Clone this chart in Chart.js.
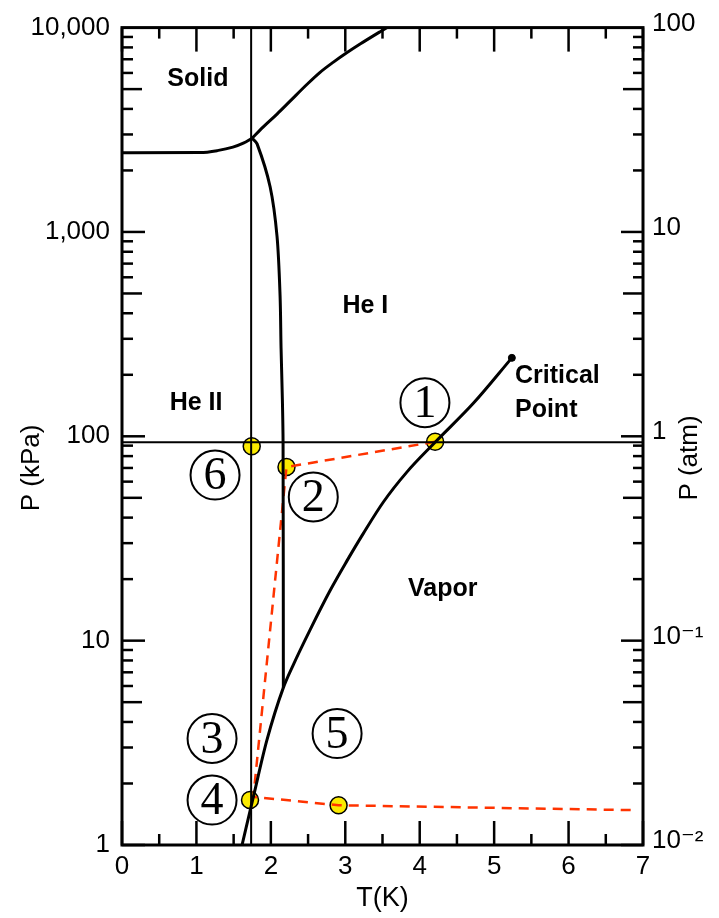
<!DOCTYPE html>
<html>
<head>
<meta charset="utf-8">
<script src="https://cdn.jsdelivr.net/npm/chart.js@4.4.1/dist/chart.umd.min.js"></script>
<style>
html,body{margin:0;padding:0;background:#fff;}
#wrap{width:719px;height:918px;}
</style>
</head>
<body>
<div id="wrap"><canvas id="c" width="719" height="918"></canvas></div>
<script>
// ---------- data ----------
const xTickValues = [0, 1, 2, 3, 4, 5, 6, 7];
const leftTickValues = [1, 10, 100, 1000, 10000];
const leftTickLabels = ['1', '10', '100', '1,000', '10,000'];
const rightTickValues = [0.01, 0.1, 1, 10, 100];
const rightTickLabels = ['10\u207B\u00B2', '10\u207B\u00B9', '1', '10', '100'];

// melting curve, low-temperature part (He II / solid), T in K, P in kPa
const meltLowT = [0, 1.05, 1.28, 1.49, 1.63, 1.747];
const meltLowP = [2440, 2445, 2500, 2600, 2718, 2872];

// melting curve, upper part (He I / solid)
const meltHighT = [1.747, 1.895, 2.083, 2.258, 2.487, 2.661, 2.836, 3.024, 3.199, 3.468, 3.67];
const meltHighP = [2872, 3260, 3775, 4365, 5280, 6040, 6760, 7550, 8310, 9550, 10570];

// lambda line (He I / He II boundary)
const lambdaT = [1.747, 1.815, 1.99, 2.083, 2.124, 2.137, 2.155, 2.164, 2.168];
const lambdaP = [2872, 2698, 1665, 951, 485, 271, 150, 93.5, 5.89];

// vapour-pressure curve up to the critical point
const vaporT = [1.613, 1.765, 1.945, 2.168, 2.30, 2.527, 2.796, 3.020, 3.243, 3.512, 3.827, 4.207, 4.72, 5.238];
const vaporP = [1.0, 1.72, 3.24, 5.89, 7.6, 11.3, 17.6, 24.5, 33.5, 47.7, 66.8, 93.5, 145, 242];

// isotherm and isobar guide lines
const isothermT = [1.735, 1.735];
const isothermP = [1, 10000];
const isobarT = [0, 7];
const isobarP = [93.5, 93.5];

// cycle path (red dashed)
const pathT = [4.207, 2.21, 1.765, 2.91, 6.92];
const pathP = [94, 70.7, 1.72, 1.565, 1.48];

// state points (yellow)
const stateT = [4.207, 2.21, 1.72, 2.91, 1.743];
const stateP = [94, 70.7, 1.66, 1.565, 89.4];

// critical point
const critT = [5.238];
const critP = [242];

// circled state numbers
const stateNumbers = ['1', '2', '3', '4', '5', '6'];
const stateNumberT = [4.07, 2.57, 1.21, 1.21, 2.89, 1.25];
const stateNumberP = [146, 50.5, 3.32, 1.66, 3.51, 64.6];

// region names
const regionNames = ['Solid', 'He I', 'He II', 'Vapor'];
const regionT = [1.02, 3.27, 0.995, 4.31];
const regionP = [5585, 434, 145, 17.8];
const critLabelLines = ['Critical', 'Point'];
const critLabelT = [5.28, 5.28];
const critLabelP = [196, 135];

const xTitle = 'T(K)';
const yLeftTitle = 'P (kPa)';
const yRightTitle = 'P (atm)';

// ---------- helpers ----------
const pts = (t, p) => t.map((v, i) => ({x: v, y: p[i]}));
const SANS = "'Liberation Sans', Arial, 'DejaVu Sans', sans-serif";
const SERIF = "'Liberation Serif', 'Times New Roman', 'DejaVu Serif', serif";

const decorations = {
  id: 'decorations',
  afterDatasetsDraw(chart) {
    const {ctx, chartArea: a, scales} = chart;
    const x = scales.x, y = scales.y, y2 = scales.y2;
    const line = (x1, y1, x2, y2_) => { ctx.beginPath(); ctx.moveTo(x1, y1); ctx.lineTo(x2, y2_); ctx.stroke(); };
    ctx.save();
    ctx.strokeStyle = '#000';
    // frame
    ctx.lineWidth = 3;
    ctx.strokeRect(a.left, a.top, a.right - a.left, a.bottom - a.top);
    // x ticks (inward, bottom and top)
    ctx.lineWidth = 2.5;
    for (let k = 0; k <= 14; k++) {
      const v = k / 2;
      const px = x.getPixelForValue(v);
      const L = k % 2 === 0 ? 24 : 11;
      line(px, a.bottom, px, a.bottom - L);
      line(px, a.top, px, a.top + L);
    }
    // left log ticks
    for (let d = 0; d < 4; d++) {
      for (let m = 1; m <= 9; m++) {
        const py = y.getPixelForValue(m * Math.pow(10, d));
        const L = m === 1 ? 23 : (m === 5 ? 20 : 11);
        line(a.left, py, a.left + L, py);
      }
    }
    // right log ticks
    for (let d = -2; d < 2; d++) {
      for (let m = 1; m <= 9; m++) {
        const py = y2.getPixelForValue(m * Math.pow(10, d));
        const L = m === 1 ? 22 : (m === 5 ? 20 : 10);
        line(a.right, py, a.right - L, py);
      }
    }
    // circled state numbers
    ctx.lineWidth = 2;
    ctx.textAlign = 'center';
    ctx.textBaseline = 'middle';
    ctx.font = '46px ' + SERIF;
    stateNumbers.forEach((s, i) => {
      const cx = x.getPixelForValue(stateNumberT[i]);
      const cy = y.getPixelForValue(stateNumberP[i]);
      ctx.fillStyle = '#fff';
      ctx.beginPath(); ctx.arc(cx, cy, 24.5, 0, Math.PI * 2); ctx.fill();
      ctx.stroke();
      ctx.fillStyle = '#000';
      ctx.fillText(s, cx, cy + 2);
    });
    // region names
    ctx.fillStyle = '#000';
    ctx.font = 'bold 25px ' + SANS;
    regionNames.forEach((s, i) => {
      ctx.fillText(s, x.getPixelForValue(regionT[i]), y.getPixelForValue(regionP[i]));
    });
    ctx.textAlign = 'left';
    critLabelLines.forEach((s, i) => {
      ctx.fillText(s, x.getPixelForValue(critLabelT[i]), y.getPixelForValue(critLabelP[i]));
    });
    // axis titles for the vertical axes
    ctx.font = '26px ' + SANS;
    ctx.textAlign = 'center';
    ctx.save();
    ctx.translate(32, 468);
    ctx.rotate(-Math.PI / 2);
    ctx.fillText(yLeftTitle, 0, 0);
    ctx.restore();
    ctx.save();
    ctx.translate(690, 458);
    ctx.rotate(-Math.PI / 2);
    ctx.fillText(yRightTitle, 0, 0);
    ctx.restore();
    ctx.restore();
  }
};

const noGrid = {display: false, drawTicks: false};

new Chart(document.getElementById('c'), {
  type: 'scatter',
  data: {
    datasets: [
      {data: pts(isothermT, isothermP), showLine: true, borderColor: '#000', borderWidth: 2, pointRadius: 0},
      {data: pts(isobarT, isobarP), showLine: true, borderColor: '#000', borderWidth: 2, pointRadius: 0},
      {data: pts(meltLowT, meltLowP), showLine: true, borderColor: '#000', borderWidth: 3, pointRadius: 0, cubicInterpolationMode: 'monotone'},
      {data: pts(meltHighT, meltHighP), showLine: true, borderColor: '#000', borderWidth: 3, pointRadius: 0, cubicInterpolationMode: 'monotone'},
      {data: pts(lambdaT, lambdaP), showLine: true, borderColor: '#000', borderWidth: 3, pointRadius: 0, tension: 0.3},
      {data: pts(vaporT, vaporP), showLine: true, borderColor: '#000', borderWidth: 3, pointRadius: 0, cubicInterpolationMode: 'monotone'},
      {data: pts(critT, critP), pointRadius: 3.5, pointBackgroundColor: '#000', pointBorderColor: '#000'},
      {data: pts(pathT, pathP), showLine: true, borderColor: '#ff3300', borderWidth: 2.5, borderDash: [10, 7], pointRadius: 0, tension: 0},
      {data: pts(stateT, stateP), pointRadius: 8.5, pointBackgroundColor: '#fbea00', pointBorderColor: '#000', pointBorderWidth: 1.5}
    ]
  },
  options: {
    responsive: false,
    animation: false,
    devicePixelRatio: 1,
    layout: {padding: {top: 23, left: 0, right: 0, bottom: 0}},
    plugins: {legend: {display: false}, tooltip: {enabled: false}},
    scales: {
      x: {
        type: 'linear', position: 'bottom', min: 0, max: 7,
        grid: noGrid, border: {display: false},
        afterBuildTicks: s => { s.ticks = xTickValues.map(v => ({value: v})); },
        afterFit: s => { s.height = 73; },
        ticks: {padding: 6, color: '#000', font: {family: SANS, size: 26}, maxRotation: 0, autoSkip: false},
        title: {display: true, text: xTitle, color: '#000', font: {family: SANS, size: 27}, padding: {top: 0, bottom: 3}}
      },
      y: {
        type: 'logarithmic', position: 'left', min: 1, max: 10000,
        grid: noGrid, border: {display: false},
        afterBuildTicks: s => { s.ticks = leftTickValues.map(v => ({value: v})); },
        afterFit: s => { s.width = 122; },
        ticks: {padding: 12, color: '#000', font: {family: SANS, size: 26}, autoSkip: false,
          callback: (v) => leftTickLabels[leftTickValues.indexOf(v)]}
      },
      y2: {
        type: 'logarithmic', position: 'right', min: 0.01, max: 100,
        grid: noGrid, border: {display: false},
        afterBuildTicks: s => { s.ticks = rightTickValues.map(v => ({value: v})); },
        afterFit: s => { s.width = 76; },
        ticks: {padding: 9, labelOffset: -4, color: '#000', font: {family: SANS, size: 26}, autoSkip: false,
          callback: (v) => rightTickLabels[rightTickValues.indexOf(v)]}
      }
    }
  },
  plugins: [decorations]
});
</script>
</body>
</html>
